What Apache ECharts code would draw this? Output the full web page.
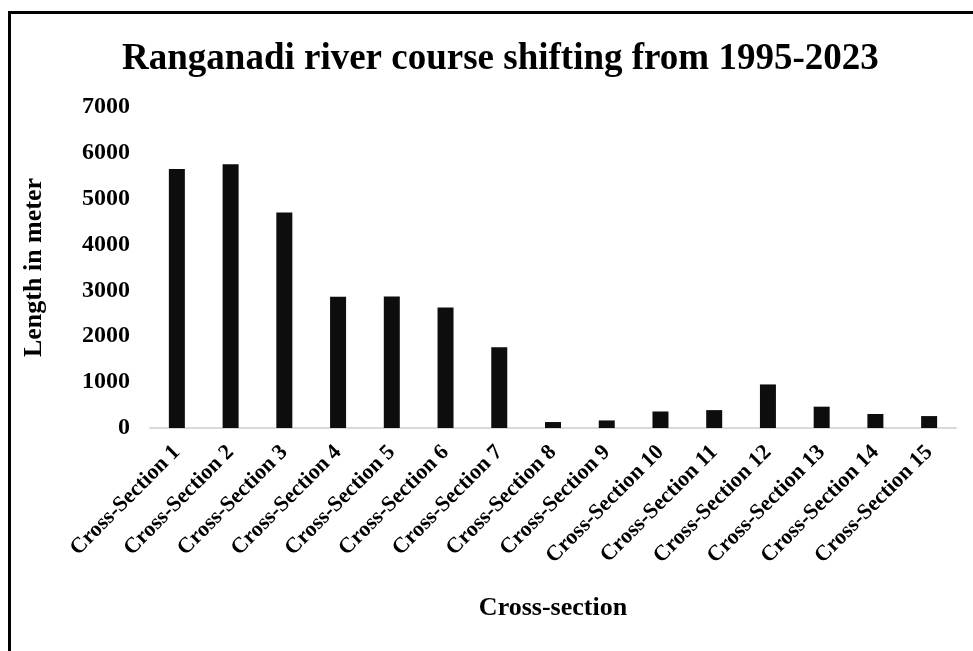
<!DOCTYPE html>
<html>
<head>
<meta charset="utf-8">
<title>Ranganadi river course shifting</title>
<script src="https://cdn.jsdelivr.net/npm/echarts@6/dist/echarts.min.js"></script>
<style>
  html, body { margin: 0; padding: 0; background: #fff; }
  #chart { width: 973px; height: 651px; }
</style>
</head>
<body>
<div id="chart"></div>
<script>
  // data
  const sections = [
    'Cross-Section 1', 'Cross-Section 2', 'Cross-Section 3', 'Cross-Section 4', 'Cross-Section 5',
    'Cross-Section 6', 'Cross-Section 7', 'Cross-Section 8', 'Cross-Section 9', 'Cross-Section 10',
    'Cross-Section 11', 'Cross-Section 12', 'Cross-Section 13', 'Cross-Section 14', 'Cross-Section 15'
  ]
  const lengths = [5650, 5750, 4700, 2860, 2870, 2630, 1760, 130, 165, 360, 390, 950, 465, 305, 260]
  const yTicks = { min: 0, max: 7000, interval: 1000 }

  const font = '"Liberation Serif", "Times New Roman", serif'

  let chart = echarts.init(document.getElementById('chart'))
  let option = {
    animation: false,
    backgroundColor: '#fff',
    title: {
      text: 'Ranganadi river course shifting from 1995-2023',
      left: 117,
      top: 36,
      textStyle: { fontFamily: font, fontWeight: 'bold', fontSize: 37, color: '#000' }
    },
    // frame round the chart
    graphic: [{
      type: 'rect',
      shape: { x: 9.5, y: 12.5, width: 1000, height: 700 },
      style: { fill: 'none', stroke: '#000', lineWidth: 3 },
      silent: true
    }],
    grid: {
      left: 150, right: 17, top: 107, bottom: 223,
      containLabel: false,
      outerBoundsMode: 'none'
    },
    xAxis: {
      type: 'category',
      data: sections,
      name: 'Cross-section',
      nameLocation: 'middle',
      nameGap: 167,
      nameTextStyle: { fontFamily: font, fontWeight: 'bold', fontSize: 26, color: '#000' },
      axisLine: { lineStyle: { color: '#d9d9d9', width: 2 } },
      axisTick: { show: false },
      axisLabel: {
        rotate: 45,
        interval: 0,
        margin: 21,
        fontFamily: font, fontWeight: 'bold', fontSize: 22, color: '#000'
      }
    },
    yAxis: {
      type: 'value',
      min: yTicks.min,
      max: yTicks.max,
      interval: yTicks.interval,
      name: 'Length in meter',
      nameLocation: 'middle',
      nameRotate: 90,
      nameGap: 103,
      nameTextStyle: { fontFamily: font, fontWeight: 'bold', fontSize: 26, color: '#000' },
      axisLine: { show: false },
      axisTick: { show: false },
      splitLine: { show: false },
      axisLabel: {
        margin: 20,
        formatter: function (v) { return String(v) },
        fontFamily: font, fontWeight: 'bold', fontSize: 24, color: '#000'
      }
    },
    series: [{
      type: 'bar',
      data: lengths,
      barWidth: 16,
      itemStyle: { color: '#0d0d0d' }
    }]
  }
  chart.setOption(option)
  window.addEventListener('resize', function () {
    chart.resize()
  })
</script>
</body>
</html>
